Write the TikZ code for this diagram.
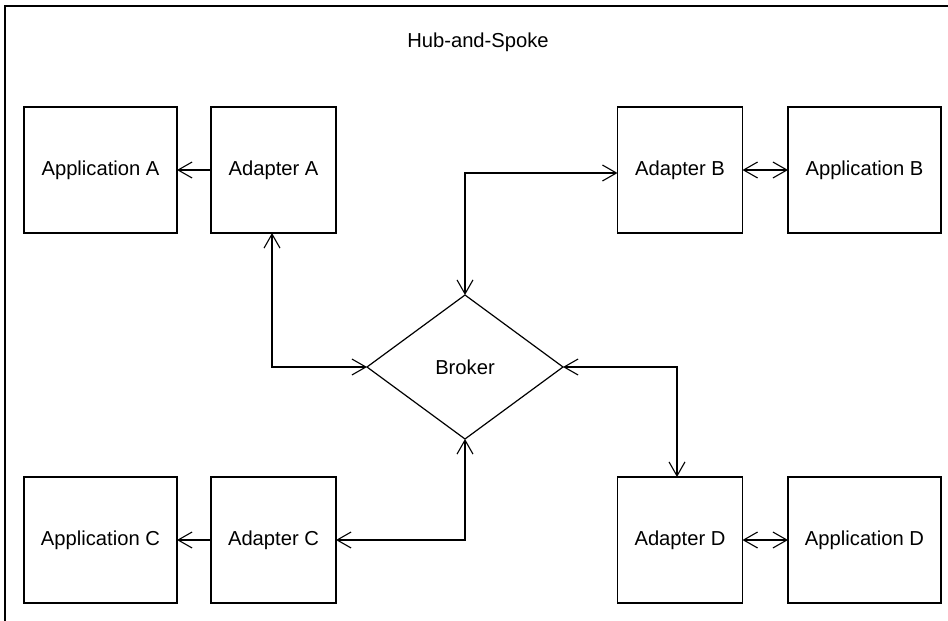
\documentclass[tikz,border=0pt]{standalone}
\usepackage{fontspec}
\setmainfont{Liberation Sans}
\usetikzlibrary{arrows.meta,shapes.geometric}
\begin{document}
\begin{tikzpicture}[x=1pt,y=-1pt,
  line width=1.2pt,
  every node/.style={font=\fontsize{20.2}{24}\selectfont},
  appbox/.style={draw, rectangle, minimum width=153pt, minimum height=126pt, inner sep=0pt, outer sep=0pt},
  adbox/.style={draw, rectangle, minimum width=125pt, minimum height=126pt, inner sep=0pt, outer sep=0pt},
  conn/.style={line width=1.2pt},
  >={Straight Barb[length=14pt,width=16pt,line width=1.1pt]}]
\useasboundingbox (0,0) rectangle (948,621);
\fill[white] (0,0) rectangle (948,621);
\begin{scope}
\clip (0,0) rectangle (948,621);
\draw[line width=1.3pt] (5,6) rectangle (980,660);
\end{scope}
\node (title) at (478,42) {Hub-and-Spoke};
% top row
\node[appbox] (appA) at (100.5,170) {Application A};
\node[adbox]  (adA)  at (273.5,170) {Adapter A};
\node[adbox]  (adB)  at (680,170) {Adapter B};
\node[appbox] (appB) at (864.5,170) {Application B};
% bottom row
\node[appbox] (appC) at (100.5,540) {Application C};
\node[adbox]  (adC)  at (273.5,540) {Adapter C};
\node[adbox]  (adD)  at (680,540) {Adapter D};
\node[appbox] (appD) at (864.5,540) {Application D};
% broker
\node[draw, diamond, minimum width=196pt, minimum height=144pt, inner sep=0pt, outer sep=0pt] (broker) at (465,367) {Broker};
% connectors
\draw[conn,->] (adA.west) -- (appA.east);
\draw[conn,<->] ([xshift=-1.5pt]adA.south) |- (broker.west);
\draw[conn,<->] (broker.north) |- ([yshift=-3pt]adB.west);
\draw[conn,<->] (adB.east) -- (appB.west);
\draw[conn,<->] (broker.east) -| ([xshift=-3pt]adD.north);
\draw[conn,<->] (broker.south) |- (adC.east);
\draw[conn,->] (adC.west) -- (appC.east);
\draw[conn,<->] (adD.east) -- (appD.west);
\end{tikzpicture}
\end{document}
